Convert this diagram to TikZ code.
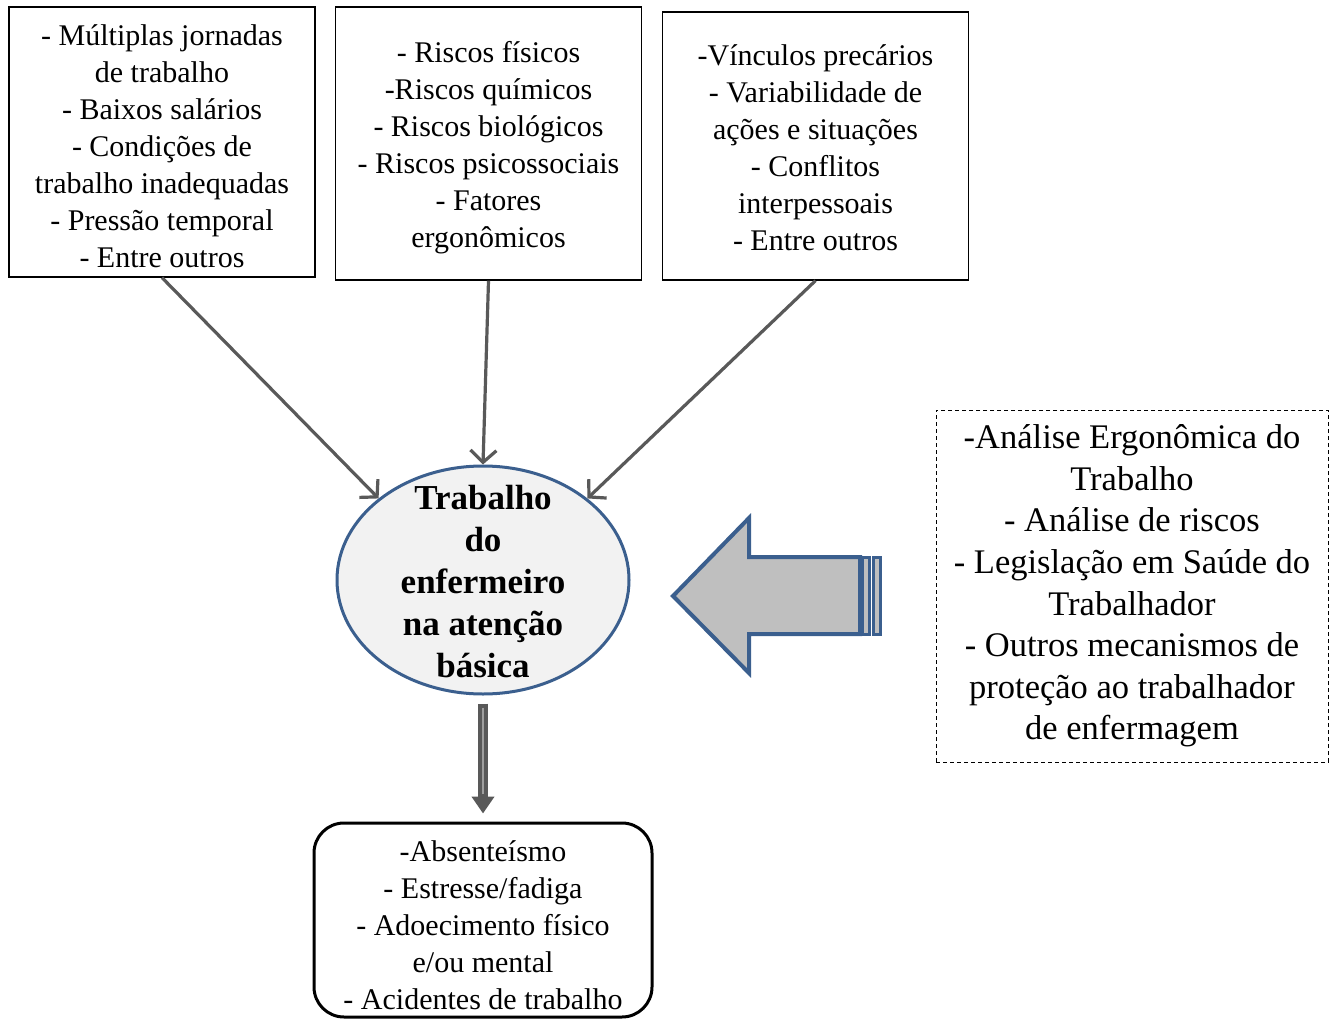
\documentclass[tikz,border=0pt]{standalone}
\usepackage{fontspec}
\setmainfont{Liberation Serif}
\usetikzlibrary{arrows.meta,shapes.geometric}
\definecolor{bluebd}{HTML}{3B5F8E}
\definecolor{arrgray}{HTML}{595959}
\definecolor{ellfill}{HTML}{F2F2F2}
\definecolor{bigfill}{HTML}{BFBFBF}
\tikzset{
  topbox/.style={draw=black, line width=1.3pt, minimum width=306pt, inner sep=0pt},
  toptext/.style={align=center, font=\fontsize{30}{37}\selectfont, inner sep=0pt},
  inarrow/.style={draw=arrgray, line width=3.2pt, -{Straight Barb[length=12pt,width=26pt]}},
  centre/.style={ellipse, draw=bluebd, line width=3pt, fill=ellfill, minimum width=292pt,
    minimum height=228pt, inner sep=0pt},
  centretext/.style={align=center, inner sep=0pt, font=\bfseries\fontsize{35}{42}\selectfont},
  dashbox/.style={draw=black, line width=1pt, dash pattern=on 4pt off 3pt, minimum width=392pt,
    minimum height=352pt, inner sep=0pt, align=center, font=\fontsize{34.5}{41.6}\selectfont},
  resbox/.style={draw=black, line width=3pt, rounded corners=30pt, minimum width=338pt,
    minimum height=194pt, inner sep=0pt},
  restext/.style={align=center, inner sep=0pt, font=\fontsize{30}{37}\selectfont}
}
\begin{document}
\begin{tikzpicture}[x=1pt,y=-1pt]
\useasboundingbox (0,0) rectangle (1333,1019);
% top boxes
\node[topbox, minimum height=270pt] (b1) at (162,142) {};
\node[toptext] (b1t) at (162,146.5) {- Múltiplas jornadas\\de trabalho\\- Baixos salários\\- Condições de\\trabalho inadequadas\\- Pressão temporal\\- Entre outros};
\node[topbox, minimum height=273pt] (b2) at (488.5,143.5) {};
\node[toptext] (b2t) at (488.5,148) {- Riscos físicos\\-Riscos químicos\\- Riscos biológicos\\- Riscos psicossociais\\- Fatores\\ergonômicos};
\node[topbox, minimum height=268pt] (b3) at (815.5,146) {};
\node[toptext] (b3t) at (815.5,148) {-Vínculos precários\\- Variabilidade de\\ações e situações\\- Conflitos\\interpessoais\\- Entre outros};
% centre ellipse
\node[centre] (ell) at (483,580) {};
\node[centretext] (ellt) at (483,582) {Trabalho\\do\\enfermeiro\\na atenção\\básica};
% arrows into ellipse
\draw[inarrow] (b1.south) -- (ell.142);
\draw[inarrow] (b2.south) -- (ell.north);
\draw[inarrow] (b3.south) -- (ell.38);
% results box
\node[resbox] (res) at (483,920) {};
\node[restext] (rest) at (483,925) {-Absenteísmo\\- Estresse/fadiga\\- Adoecimento físico\\e/ou mental\\- Acidentes de trabalho};
% down arrow
\draw[draw=arrgray, line width=10pt, shorten <=8pt, shorten >=8pt,
  -{Triangle[length=17pt,width=22pt]}] (ell.south) -- (res.north);
\draw[draw=gray!75, line width=1.5pt] ([yshift=-12pt]ell.south) -- ([yshift=28pt]res.north);
% dashed box
\node[dashbox] (mech) at (1132,586) {-Análise Ergonômica do\\Trabalho\\- Análise de riscos\\- Legislação em Saúde do\\Trabalhador\\- Outros mecanismos de\\proteção ao trabalhador\\de enfermagem};
% big left arrow
\draw[draw=bluebd, line width=4pt, fill=bigfill, line join=miter]
  (673,596) -- (749,518) -- (749,557) -- (860,557) -- (860,634) -- (749,634) -- (749,673) -- cycle;
\draw[draw=bluebd, line width=3pt, fill=bigfill] (862,557) rectangle (869,634);
\draw[draw=bluebd, line width=3pt, fill=bigfill] (873,557) rectangle (880,634);
\end{tikzpicture}
\end{document}
